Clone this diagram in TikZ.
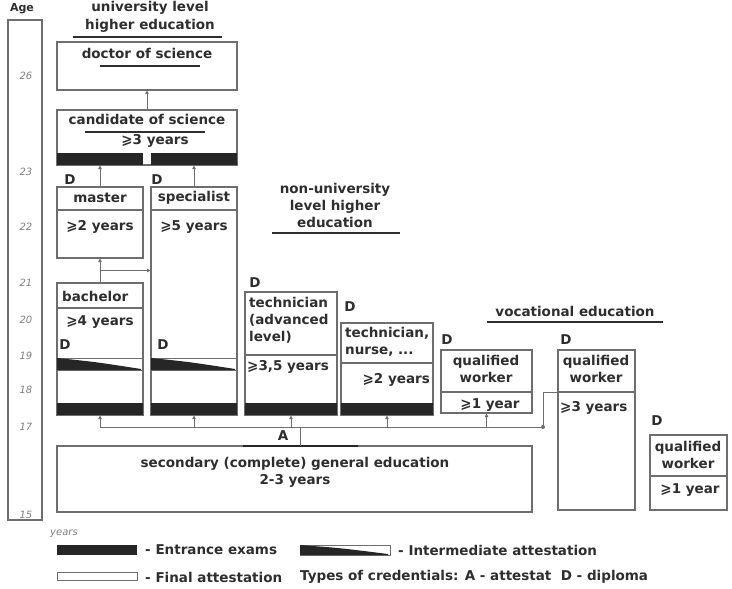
\documentclass[tikz,border=0pt]{standalone}
\usepackage{fontspec}
\setmainfont{DejaVu Sans}
\usetikzlibrary{arrows.meta,calc}
\definecolor{ln}{HTML}{6E6E6E}
\definecolor{tx}{HTML}{2E2E2E}
\definecolor{barc}{HTML}{262626}
\tikzset{
  box/.style={draw=ln, line width=1.2pt, fill=white, anchor=north west, inner sep=0pt, outer sep=0pt},
  barbox/.style={fill=barc, draw=none, anchor=north west, inner sep=0pt, outer sep=0pt},
  txt/.style={text=tx, font=\fontsize{13.5}{17}\selectfont\bfseries, inner sep=0pt},
  agelab/.style={text=gray, font=\fontsize{10}{12}\selectfont\itshape, inner sep=0pt},
  conn/.style={draw=ln, line width=1pt, -{Latex[length=4pt,width=4pt]}},
  plain/.style={draw=ln, line width=1pt},
  uline/.style={draw=tx, line width=1.6pt},
  divider/.style={draw=ln, line width=1.2pt}
}
\begin{document}
\begin{tikzpicture}[x=1pt,y=-1pt]
\useasboundingbox (0,0) rectangle (732,589);
% age column
\node[box, minimum width=34pt, minimum height=500pt] (agecol) at (8,20) {};
\node[txt, font=\fontsize{11}{13}\selectfont\bfseries] (agehd) at (22,9) {Age};
\node[agelab] (a26) at (26,76) {26};
\node[agelab] (a23) at (26,172) {23};
\node[agelab] (a22) at (26,227) {22};
\node[agelab] (a21) at (26,283) {21};
\node[agelab] (a20) at (26,320) {20};
\node[agelab] (a19) at (26,356) {19};
\node[agelab] (a18) at (26,390) {18};
\node[agelab] (a17) at (26,427) {17};
\node[agelab] (a15) at (26,515) {15};
\node[agelab] (yrs) at (64,534) {years};

% headings
\node[txt] (uh1) at (150,8) {university level};
\node[txt] (uh2) at (150,26) {higher education};
\draw[uline] (73,37) -- (222,37);
\node[txt, align=center] (nuh) at (335,205) {non-university\\level higher\\education};
\draw[uline] (272,233) -- (400,233);
\node[txt] (voc) at (575,311) {vocational education};
\draw[uline] (487,322) -- (663,322);

% doctor
\node[box, minimum width=180pt, minimum height=48pt] (doctor) at (57,42) {};
\node[txt] (doctort) at (147,53) {doctor of science};
\draw[uline, line width=1.2pt] (100,66) -- (200,66);

% candidate
\node[box, minimum width=180pt, minimum height=55pt] (cand) at (57,110) {};
\node[txt] (candt) at (147,119) {candidate of science};
\draw[uline, line width=1.2pt] (85,132) -- (205,132);
\node[txt] (candy) at (155,141) {⩾3 years};
\node[barbox, minimum width=86pt, minimum height=12pt] (cbarL) at (57,153) {};
\node[barbox, minimum width=86pt, minimum height=12pt] (cbarR) at (151,153) {};
\draw[conn] (cand.north) -- (doctor.south);

% master
\node[txt] (dm) at (70,180) {D};
\node[box, minimum width=86pt, minimum height=71pt] (master) at (57,187) {};
\draw[divider] (57,210) -- (143,210);
\node[txt] (mastert) at (100,198) {master};
\node[txt] (mastery) at (100,227) {⩾2 years};

% specialist
\node[txt] (ds) at (157,180) {D};
\node[box, minimum width=86pt, minimum height=228pt] (spec) at (151,187) {};
\draw[divider] (151,210) -- (237,210);
\node[txt] (spect) at (194,198) {specialist};
\node[txt] (specy) at (194,227) {⩾5 years};
\node[txt] (ds2) at (163,345) {D};
\draw[plain, line width=0.8pt] (151,358) rectangle (237,370);
\fill[barc] (151,358) .. controls (190,362) .. (235,369) -- (235,370) -- (151,370) -- cycle;
\node[barbox, minimum width=86pt, minimum height=12pt] (sbar) at (151,403) {};

% bachelor
\node[box, minimum width=86pt, minimum height=132pt] (bach) at (57,283) {};
\draw[divider] (57,308) -- (143,308);
\node[txt, anchor=west] (bacht) at (62,296) {bachelor};
\node[txt] (bachy) at (100,322) {⩾4 years};
\node[txt] (db) at (65,345) {D};
\draw[plain, line width=0.8pt] (57,358) rectangle (143,370);
\fill[barc] (57,358) .. controls (96,362) .. (141,369) -- (141,370) -- (57,370) -- cycle;
\node[barbox, minimum width=86pt, minimum height=12pt] (bbar) at (57,403) {};

\draw[conn] (master.north) -- (cbarL.south);
\draw[conn] (spec.north) -- (cbarR.south);
\draw[conn] (bach.north) -- (master.south);
\coordinate (j1) at ($(bach.north)!0.5!(master.south)$);
\draw[conn] (j1) -- (j1 -| spec.west);

% technician advanced
\node[txt] (dta) at (255,283) {D};
\node[box, minimum width=92pt, minimum height=123pt] (tadv) at (245,292) {};
\draw[divider] (245,355) -- (337,355);
\node[txt, anchor=west, align=left] (tadvt) at (249,320) {technician\\(advanced\\level)};
\node[txt, anchor=west] (tadvy) at (247,367) {⩾3,5 years};
\node[barbox, minimum width=92pt, minimum height=12pt] (tabar) at (245,403) {};

% technician nurse
\node[txt] (dtn) at (350,307) {D};
\node[box, minimum width=92pt, minimum height=92pt] (tnur) at (341,323) {};
\draw[divider] (341,363) -- (433,363);
\node[txt, anchor=west, align=left] (tnurt) at (345,342) {technician,\\nurse, ...};
\node[txt, anchor=east] (tnury) at (430,380) {⩾2 years};
\node[barbox, minimum width=92pt, minimum height=12pt] (tnbar) at (341,403) {};

% qualified worker 1
\node[txt] (dq1) at (447,340) {D};
\node[box, minimum width=91pt, minimum height=63pt] (qw1) at (441,350) {};
\draw[divider] (441,392) -- (532,392);
\node[txt, align=center] (qw1t) at (486,369) {qualified\\worker};
\node[txt] (qw1y) at (490,405) {⩾1 year};

% qualified worker 2
\node[txt] (dq2) at (566,340) {D};
\node[box, minimum width=77pt, minimum height=160pt] (qw2) at (558,350) {};
\draw[divider] (558,392) -- (635,392);
\node[txt, align=center] (qw2t) at (596,369) {qualified\\worker};
\node[txt, anchor=west] (qw2y) at (560,408) {⩾3 years};

% qualified worker 3
\node[txt] (dq3) at (657,421) {D};
\node[box, minimum width=77pt, minimum height=75pt] (qw3) at (650,435) {};
\draw[divider] (650,476) -- (727,476);
\node[txt, align=center] (qw3t) at (688,455) {qualified\\worker};
\node[txt] (qw3y) at (690,490) {⩾1 year};

% secondary
\node[box, minimum width=475pt, minimum height=66pt] (sec) at (57,446) {};
\node[txt, align=center] (sect) at (295,472) {secondary (complete) general education\\2-3 years};
\draw[draw=barc, line width=2.2pt] (243,446) -- (358,446);
\node[txt] (atxt) at (283,436) {A};

% bus
\coordinate (aj) at (300,427);
\coordinate (elb) at (543,427);
\coordinate (q2d) at ($(qw2.north west)+(0,42)$);
\draw[plain] (sec.north -| aj) -- (aj);
\draw[plain] (bach.south |- aj) -- (elb);
\draw[plain] (elb) -- (elb |- q2d) -- (q2d);
\fill[ln] (elb) circle (2pt);
\foreach \n in {bach,spec,tadv,tnur,qw1}
  \draw[conn] (\n.south |- aj) -- (\n.south);

% legend
\node[barbox, minimum width=80pt, minimum height=10pt] (lg1) at (57,545) {};
\node[txt, anchor=west] (lg1t) at (145,550) {- Entrance exams};
\draw[plain, line width=0.8pt] (300,545) rectangle (390,555);
\fill[barc] (300,545) .. controls (340,548) .. (388,554) -- (388,555) -- (300,555) -- cycle;
\node[txt, anchor=west] (lg2t) at (398,550) {- Intermediate attestation};
\node[box, minimum width=80pt, minimum height=8pt, line width=0.8pt] (lg3) at (57,572) {};
\node[txt, anchor=west] (lg3t) at (145,577) {- Final attestation};
\node[txt, anchor=west] (lg4t) at (300,577) {Types of credentials: A - attestat\ \ D - diploma};
\end{tikzpicture}
\end{document}
